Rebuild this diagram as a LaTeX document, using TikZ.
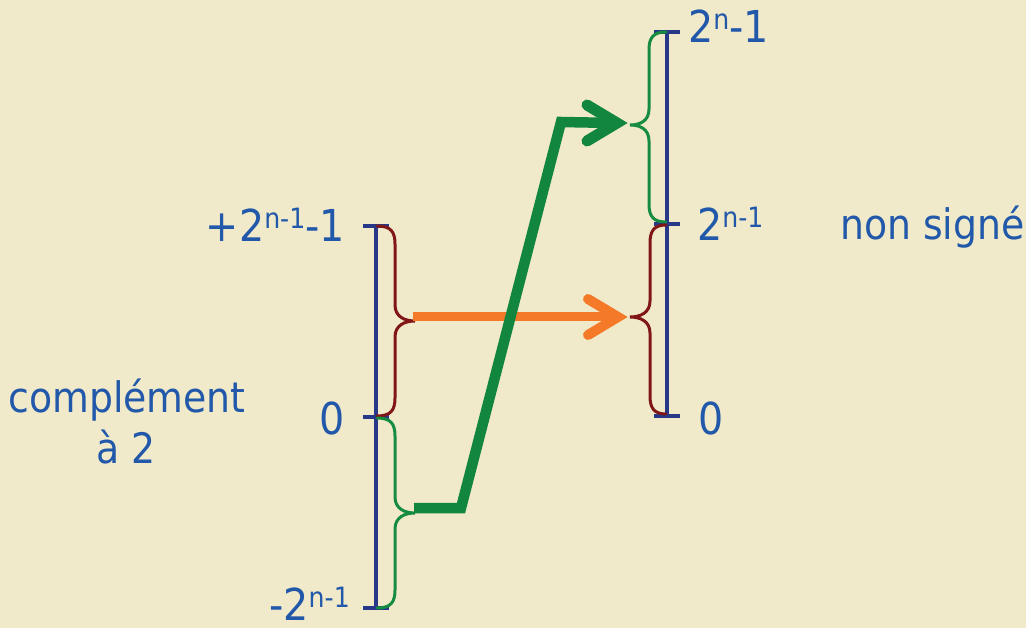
\documentclass[tikz,border=0pt]{standalone}
\usepackage{fontspec}
\setmainfont{DejaVu Sans Condensed}
\definecolor{bgc}{RGB}{240,234,202}
\definecolor{txt}{RGB}{34,88,170}
\definecolor{axisc}{RGB}{40,56,136}
\definecolor{bred}{RGB}{128,22,22}
\definecolor{bgreen}{RGB}{22,140,64}
\definecolor{agreen}{RGB}{18,134,62}
\definecolor{aorange}{RGB}{244,122,42}
\newcommand\hsup[1]{\raisebox{13pt}{\fontsize{28}{28}\selectfont #1}}
\begin{document}
\begin{tikzpicture}[x=1pt,y=-1pt,
  lbl/.style={text=txt,font=\fontsize{44}{44}\selectfont,inner sep=0pt},
  word/.style={text=txt,font=\fontsize{42}{50}\selectfont,inner sep=0pt},
  axisline/.style={draw=axisc,line width=4pt},
  bracered/.style={draw=bred,line width=3pt,line cap=round},
  bracegreen/.style={draw=bgreen,line width=3pt,line cap=round},
  orangeline/.style={draw=aorange,line width=9pt},
  orangehead/.style={draw=aorange,line width=10pt,line cap=round,line join=miter},
  greenline/.style={draw=agreen,line width=10.5pt,line join=miter},
  greenhead/.style={draw=agreen,line width=11pt,line cap=round,line join=miter}]
\fill[bgc] (0,0) rectangle (1026,628);
\useasboundingbox (0,0) rectangle (1026,628);

% axes
\coordinate (Ltop) at (376,226);
\coordinate (Lmid) at (376,417);
\coordinate (Lbot) at (376,608);
\coordinate (Rtop) at (667,32);
\coordinate (Rmid) at (667,224);
\coordinate (Rbot) at (667,416);
\draw[axisline] (Ltop) -- (Lbot);
\draw[axisline] (Rtop) -- (Rbot);
\foreach \p in {Ltop,Lmid,Lbot,Rtop,Rmid,Rbot}
  \draw[axisline] ([xshift=-13pt]\p) -- ([xshift=13pt]\p);

% braces
\draw[bracered] (377,226) .. controls (391,226) and (395,232) .. (395,244) -- (395,305) .. controls (395,317) and (405,321) .. (415,321) .. controls (405,321) and (395,325) .. (395,337) -- (395,398) .. controls (395,410) and (391,416) .. (377,416);
\draw[bracegreen] (377,418) .. controls (391,418) and (395,424) .. (395,436) -- (395,497) .. controls (395,509) and (405,513) .. (415,513) .. controls (405,513) and (395,517) .. (395,529) -- (395,590) .. controls (395,602) and (391,608) .. (377,608);
\draw[bracegreen] (666,32) .. controls (653,32) and (649,38) .. (649,50) -- (649,109) .. controls (649,121) and (640,125) .. (630,125) .. controls (640,125) and (649,129) .. (649,141) -- (649,204) .. controls (649,216) and (653,222) .. (666,222);
\draw[bracered] (666,225) .. controls (654,225) and (650,231) .. (650,243) -- (650,301) .. controls (650,313) and (640,317) .. (630,317) .. controls (640,317) and (650,321) .. (650,333) -- (650,396) .. controls (650,408) and (654,414) .. (666,414);

% arrows
\coordinate (lr) at (413,317);
\coordinate (rr) at (630,317);
\coordinate (lg) at (414,508);
\coordinate (g1) at (461,508);
\coordinate (g2) at (561,122);
\coordinate (rg) at (630,123);
\draw[orangeline] (lr) -- ([xshift=-14pt]rr);
\draw[orangehead] ([shift={(-42pt,18pt)}]rr) -- ([xshift=-12pt]rr) -- ([shift={(-42pt,-18pt)}]rr);
\draw[greenline] (lg) -- (g1) -- (g2) -- ([xshift=-15pt]rg);
\draw[greenhead] ([shift={(-43pt,18pt)}]rg) -- ([xshift=-13pt]rg) -- ([shift={(-43pt,-18pt)}]rg);

% labels
\node[lbl,anchor=base east] (tmax) at (345,242) {+2\hsup{n-1}-1};
\node[lbl,anchor=base east] (tzero) at (345,435) {0};
\node[lbl,anchor=base east] (tmin) at (350,620) {-2\hsup{n-1}};
\node[lbl,anchor=base west] (umax) at (688,43) {2\hsup{n}-1};
\node[lbl,anchor=base west] (umid) at (697,241) {2\hsup{n-1}};
\node[lbl,anchor=base west] (uzero) at (698,435) {0};
\node[word,anchor=base] (c1) at (127,413) {complément};
\node[word,anchor=base] (c2) at (126,463) {à 2};
\node[word,anchor=base west] (ns) at (840,240) {non signé};
\end{tikzpicture}
\end{document}
